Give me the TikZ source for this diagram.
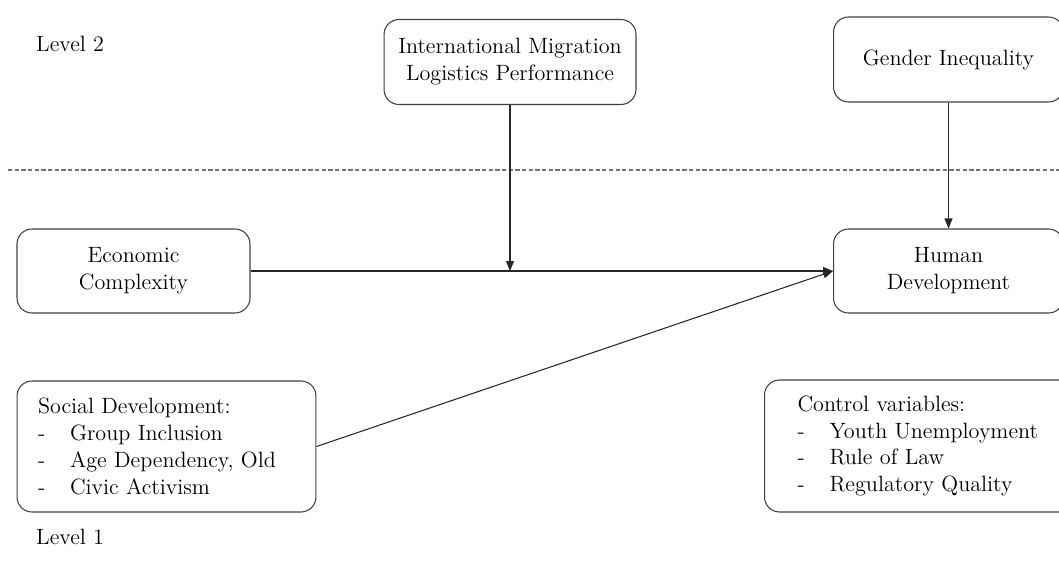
\documentclass[tikz,border=0pt]{standalone}
\usetikzlibrary{arrows.meta, positioning}
\tikzset{
  box/.style={draw=black!75, line width=0.6pt, rounded corners=0.3cm, align=center},
  listbox/.style={box, align=left, inner xsep=0.42cm},
  link/.style={->, draw=black!85, line width=0.6pt},
  levelline/.style={draw=black!55, line width=0.6pt, dash pattern=on 2.4pt off 1.4pt}
}
\newcommand{\itm}{\makebox[0.64cm][l]{-}}

\begin{document}
\begin{tikzpicture}[x=0.02cm, y=-0.02cm, >={Triangle[length=2mm,width=1.6mm]},
  font=\fontsize{12.6}{15.3}\selectfont]

\useasboundingbox (0,0) rectangle (1059,572);

% level 2
\node[anchor=west] (lvltwo) at (30,44) {Level 2};
\node[box, minimum width=5.04cm, minimum height=1.7cm] (migr) at (510,62)
  {International Migration\\Logistics Performance};
\node[box, minimum width=4.6cm, minimum height=1.7cm] (gender) at (948.5,59.5)
  {Gender Inequality};

\draw[levelline] (8,170) -- (1059,170);

% level 1
\node[box, minimum width=4.66cm, minimum height=1.68cm] (econ) at (133.5,271)
  {Economic\\Complexity};
\node[box, minimum width=4.6cm, minimum height=1.68cm] (human) at (948.5,271)
  {Human\\Development};

\node[listbox, text width=5.14cm, minimum height=2.62cm] (social) at (166.5,446.5)
  {Social Development:\\ \itm Group Inclusion\\ \itm Age Dependency, Old\\ \itm Civic Activism};
\node[listbox, text width=5.1cm, inner xsep=0.66cm, minimum height=2.64cm] (control) at (925,446)
  {Control variables:\\ \itm Youth Unemployment\\ \itm Rule of Law\\ \itm Regulatory Quality};

\node[anchor=west] (lvlone) at (30,537) {Level 1};

\coordinate (meet) at (migr.south |- econ.east);

\draw[link] (econ) -- (human);
\draw[link] (migr) -- (meet);
\draw[link] (gender) -- (human);
\draw[link] (social.east) -- (human.west);

\end{tikzpicture}
\end{document}
